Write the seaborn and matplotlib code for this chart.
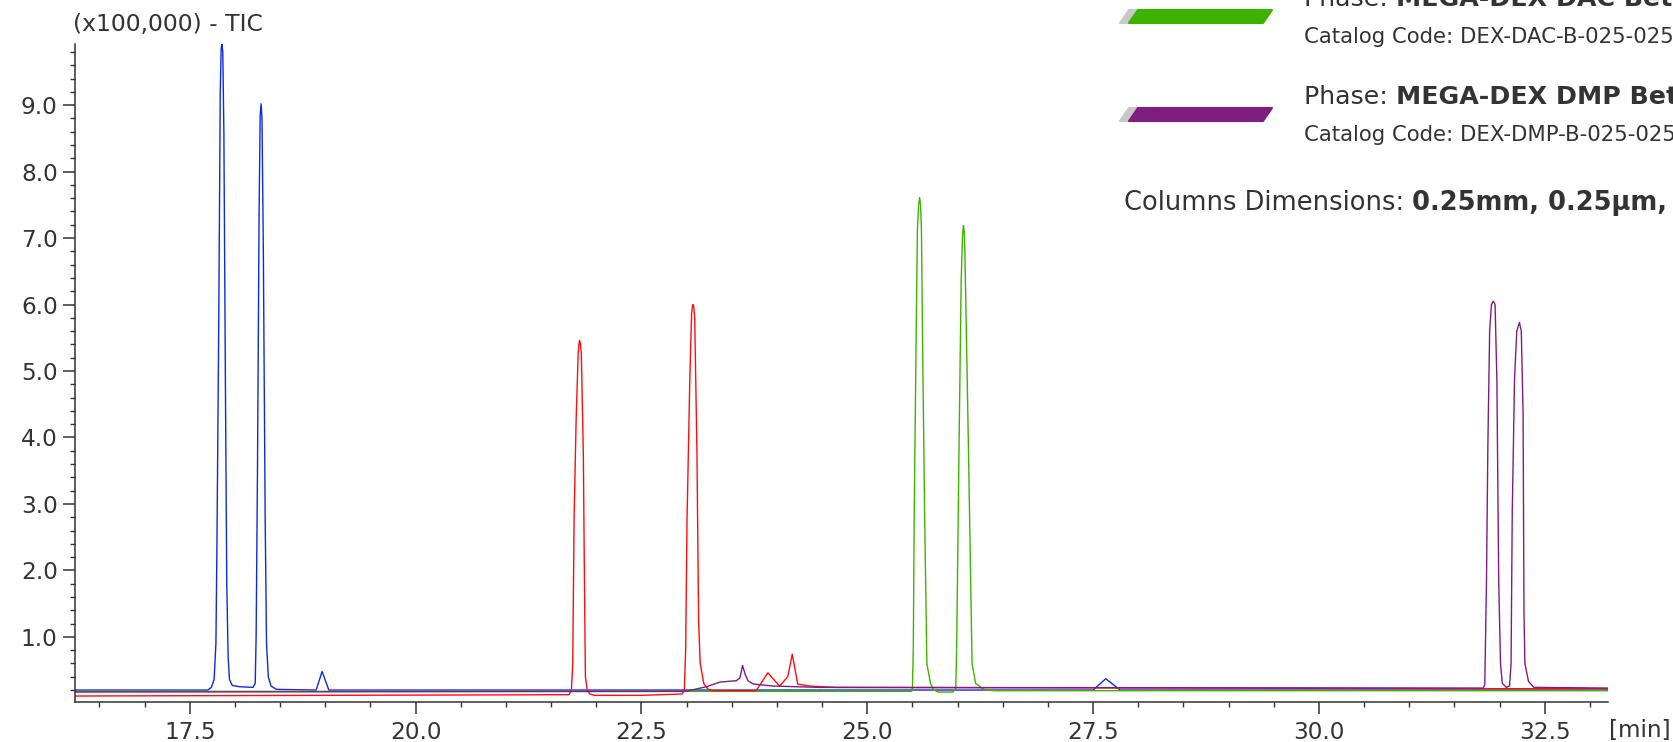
import numpy as np
import pandas as pd
import matplotlib
matplotlib.use("Agg")
import matplotlib.pyplot as plt
from matplotlib.patches import Polygon
from matplotlib.ticker import MultipleLocator, FormatStrFormatter
import seaborn as sns

#----------------- traces (time [min], TIC x100,000) ---------------------------------------

blue_t = [16.22, 17.70, 17.74, 17.77, 17.79, 17.80, 17.82, 17.838, 17.848, 17.856, 17.866, 17.878,
          17.895, 17.91, 17.925, 17.94, 17.97, 18.05, 18.20, 18.225, 18.235, 18.25, 18.268, 18.28,
          18.29, 18.30, 18.315, 18.335, 18.35, 18.37, 18.40, 18.46, 18.90, 18.965, 19.04,
          27.50, 27.64, 27.80, 33.20]
blue_y = [0.20, 0.20, 0.24, 0.36, 0.90, 2.20, 5.50, 9.20, 9.85, 9.92, 9.80, 8.60,
          4.80, 1.80, 0.70, 0.36, 0.27, 0.25, 0.24, 0.30, 1.00, 3.50, 7.40, 8.85,
          9.02, 8.80, 6.80, 2.80, 0.90, 0.40, 0.26, 0.21, 0.20, 0.48, 0.20,
          0.20, 0.37, 0.20, 0.20]

red_t = [16.22, 21.70, 21.725, 21.74, 21.755, 21.778, 21.80, 21.808, 21.815, 21.823, 21.835, 21.857,
         21.87, 21.88, 21.90, 21.93, 21.98, 22.50, 22.95, 22.975, 22.99, 23.005, 23.034, 23.055,
         23.064, 23.072, 23.08, 23.09, 23.115, 23.133, 23.15, 23.19, 23.24, 23.30, 23.77, 23.90,
         24.03, 24.12, 24.17, 24.23, 24.36, 24.65, 31.80, 33.20]
red_y = [0.11, 0.13, 0.20, 0.60, 2.80, 4.30, 5.26, 5.40, 5.46, 5.42, 5.26, 3.76,
         1.76, 0.40, 0.20, 0.14, 0.12, 0.12, 0.14, 0.20, 0.80, 2.76, 4.76, 5.85,
         5.97, 6.00, 5.96, 5.80, 3.76, 1.26, 0.61, 0.30, 0.21, 0.19, 0.19, 0.46,
         0.26, 0.40, 0.74, 0.29, 0.26, 0.24, 0.22, 0.22]

green_t = [16.22, 25.49, 25.50, 25.51, 25.52, 25.54, 25.555, 25.568, 25.58, 25.59, 25.60, 25.613,
           25.635, 25.66, 25.70, 25.73, 25.78, 25.95, 25.98, 25.99, 26.016, 26.04, 26.055, 26.065,
           26.073, 26.08, 26.12, 26.16, 26.20, 26.29, 26.40, 33.20]
green_y = [0.18, 0.18, 0.23, 0.85, 2.86, 5.36, 7.12, 7.48, 7.61, 7.50, 7.12, 5.36,
           2.86, 0.60, 0.30, 0.21, 0.17, 0.17, 0.23, 0.85, 3.86, 6.36, 7.05, 7.19,
           7.10, 6.86, 3.86, 0.60, 0.30, 0.21, 0.19, 0.19]

purple_t = [16.22, 22.99, 23.22, 23.37, 23.55, 23.59, 23.62, 23.65, 23.68, 23.74, 23.96, 24.47,
            31.82, 31.836, 31.855, 31.87, 31.89, 31.91, 31.93, 31.95, 31.97, 31.99, 32.01, 32.03,
            32.075, 32.11, 32.127, 32.14, 32.165, 32.19, 32.22, 32.24, 32.26, 32.27, 32.28, 32.32,
            32.38, 33.20]
purple_y = [0.17, 0.18, 0.25, 0.32, 0.34, 0.38, 0.57, 0.43, 0.34, 0.29, 0.26, 0.24,
            0.23, 0.28, 1.86, 3.86, 5.61, 6.00, 6.05, 6.00, 4.86, 1.86, 0.60, 0.30,
            0.24, 0.26, 0.60, 2.86, 4.86, 5.60, 5.73, 5.60, 4.36, 1.36, 0.60, 0.33,
            0.24, 0.23]

trace_names = ['blue', 'green', 'red', 'purple']
trace_colors = {'blue': '#0b2be0', 'green': '#3db300', 'red': '#ff0d0d', 'purple': '#7f1d7f'}

legend_colors = ['#3db300', '#7f1d80']
legend_phases = ['MEGA-DEX DAC Beta', 'MEGA-DEX DMP Beta']
legend_codes = ['DEX-DAC-B-025-025', 'DEX-DMP-B-025-025']
dimensions = '0.25mm, 0.25\u00b5m,'

#----------------- build table ------------------

frames = []
for name, t, y in [('blue', blue_t, blue_y), ('green', green_t, green_y),
                   ('red', red_t, red_y), ('purple', purple_t, purple_y)]:
	frames.append(pd.DataFrame({'time': t, 'tic': y, 'trace': name}))
df = pd.concat(frames, ignore_index=True)

#----------------- plot ------------------

sns.set_theme(style='ticks')
plt.rcParams['font.family'] = ['DejaVu Sans']
TXT = '#333333'

W, H = 1673, 742
fig = plt.figure(figsize=(W/100, H/100), dpi=100)
ax = fig.add_axes([75/W, 1-702/H, (1608-75)/W, (702-44)/H])

for name in trace_names:
	sns.lineplot(data=df[df['trace'] == name], x='time', y='tic', color=trace_colors[name],
	             estimator=None, sort=False, lw=1.0, ax=ax, legend=False)

ax.set_xlim(16.23, 33.2)
ax.set_ylim(0.02, 9.92)
ax.set_xlabel('')
ax.set_ylabel('')
sns.despine(ax=ax)
for s in ['left', 'bottom']:
	ax.spines[s].set_color(TXT)
	ax.spines[s].set_linewidth(1.1)

ax.xaxis.set_major_locator(MultipleLocator(2.5))
ax.xaxis.set_minor_locator(MultipleLocator(0.5))
ax.yaxis.set_major_locator(MultipleLocator(1.0))
ax.yaxis.set_minor_locator(MultipleLocator(0.2))
ax.xaxis.set_major_formatter(FormatStrFormatter('%.1f'))
ax.yaxis.set_major_formatter(FormatStrFormatter('%.1f'))
ax.tick_params(which='major', length=8.5, width=1.1, color=TXT, labelcolor=TXT, labelsize=16.7, pad=5)
ax.tick_params(which='minor', length=3.5, width=1.0, color=TXT)
ax.tick_params(axis='y', which='major', pad=4)

fig.text(73/W, 1-31.5/H, '(x100,000) - TIC', fontsize=16.9, color=TXT, va='baseline')
fig.text(1609/W, 1-731/H, '[min]', fontsize=16.7, color=TXT, va='center')

def fig_poly(pts, color):
	fig.patches.append(Polygon([(px/W, 1-py/H) for px, py in pts], closed=True, transform=fig.transFigure,
	                           fc=color, ec=color, lw=1.5, joinstyle='round'))

def legend_bar(x0, top, color):
	w, h, s = 134, 13, 9
	for dx, c in [(-9, '#c8c8c8'), (0, color)]:
		xs = x0 + dx
		fig_poly([(xs, top+h), (xs+w, top+h), (xs+w+s, top), (xs+s, top)], c)

def mixed_text(x, y, plain, bold, size):
	t1 = fig.text(x/W, 1-y/H, plain, fontsize=size, color=TXT, va='baseline')
	fig.canvas.draw()
	bb = t1.get_window_extent()
	fig.text(bb.x1/W, 1-y/H, bold, fontsize=size, color=TXT, va='baseline', fontweight='bold')

for i in range(2):
	off = 98*i
	legend_bar(1129, 10+off, legend_colors[i])
	mixed_text(1304, 6+off, 'Phase: ', legend_phases[i], 18.2)
	fig.text(1304/W, 1-(43+off)/H, 'Catalog Code: ' + legend_codes[i], fontsize=15.3, color=TXT, va='baseline')

mixed_text(1124, 210, 'Columns Dimensions: ', dimensions, 18.5)

fig.savefig('out.png', dpi=100)
